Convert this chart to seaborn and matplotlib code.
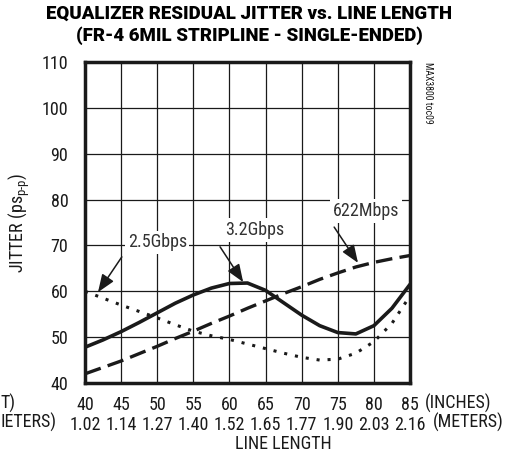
import matplotlib
matplotlib.use("Agg")
import matplotlib.pyplot as plt
from matplotlib import font_manager as fm
import seaborn as sns
import pandas as pd

# values
length_in = [40, 42.5, 45, 47.5, 50, 52.5, 55, 57.5, 60, 62.5, 65, 67.5, 70, 72.5, 75, 77.5, 80, 82.5, 85]
jitter_2g5 = [60, 58.5, 57, 55.6, 54.2, 52.7, 51.3, 50.3, 49.5, 48.5, 47.5, 46.5, 45.6, 45.0, 45.2, 46.5, 49, 53, 59]
jitter_3g2 = [47.8, 49.4, 51.2, 53.2, 55.3, 57.4, 59.2, 60.7, 61.7, 61.8, 60.2, 57.5, 54.8, 52.5, 51.0, 50.7, 52.5, 56.3, 61.5]
jitter_622 = [42, 43.4, 44.8, 46.4, 48, 49.7, 51.3, 53.0, 54.6, 56.3, 57.9, 59.5, 61, 62.6, 64, 65.3, 66.3, 67.1, 67.8]

x_ticks_in = [40, 45, 50, 55, 60, 65, 70, 75, 80, 85]
x_ticks_m = ["1.02", "1.14", "1.27", "1.40", "1.52", "1.65", "1.77", "1.90", "2.03", "2.16"]
y_ticks = [40, 50, 60, 70, 80, 90, 100, 110]

df = pd.DataFrame({"length": length_in, "2.5Gbps": jitter_2g5,
                   "3.2Gbps": jitter_3g2, "622Mbps": jitter_622})

installed = {f.name for f in fm.fontManager.ttflist}
narrow = [n for n in ["Roboto Condensed", "Archivo Narrow", "PT Sans Narrow", "Liberation Sans Narrow",
                      "Barlow Semi Condensed"] if n in installed] + ["DejaVu Sans"]
heavy = [n for n in ["Roboto", "Roboto Condensed", "Barlow Condensed"] if n in installed] + ["DejaVu Sans"]

sns.set_style("white")
plt.rcParams["font.family"] = [narrow[0], "DejaVu Sans"]
plt.rcParams["mathtext.fontset"] = "custom"
plt.rcParams["mathtext.rm"] = narrow[0]

fig = plt.figure(figsize=(5.12, 4.57), dpi=100)
ax = fig.add_axes([85 / 512, 1 - 383 / 457, 325 / 512, 321 / 457])

ink = "#1a1a1a"
fs = 13
sns.lineplot(data=df, x="length", y="2.5Gbps", ax=ax, color=ink, lw=2.2)
ax.lines[-1].set_dashes((1.0, 2.6))
sns.lineplot(data=df, x="length", y="3.2Gbps", ax=ax, color=ink, lw=2.6)
sns.lineplot(data=df, x="length", y="622Mbps", ax=ax, color=ink, lw=2.4)
ax.lines[-1].set_dashes((5, 2.2))

ax.set_xlim(40, 85)
ax.set_ylim(40, 110)
ax.set_xticks(x_ticks_in)
ax.set_xticklabels([f"{a}\n{b}" for a, b in zip(x_ticks_in, x_ticks_m)], linespacing=1.15)
ax.set_yticks(y_ticks)
ax.grid(True, color=ink, lw=0.9)
ax.tick_params(length=0, labelsize=fs, colors=ink)
ax.tick_params(axis="y", pad=12)
ax.tick_params(axis="x", pad=9)
for s in ax.spines.values():
    s.set_visible(True)
    s.set_color(ink)
    s.set_linewidth(2.5)
ax.set_xlabel("")
ax.set_ylabel(r"JITTER (ps$_{\text{p-p}}$)", fontsize=fs, color=ink, labelpad=7)

# labels with arrows
labels = [("2.5Gbps", (50.0, 70.7), (45.1, 67.5), (41.8, 59.8)),
          ("3.2Gbps", (63.5, 73.4), (58.7, 69.7), (61.9, 62.0)),
          ("622Mbps", (78.9, 77.5), (74.5, 74.0), (77.8, 66.2))]
for txt, pos, tail, head in labels:
    ax.text(pos[0], pos[1], txt, ha="center", va="center", fontsize=fs, color="#333333",
            bbox=dict(facecolor="white", edgecolor="none", pad=2))
    ax.annotate("", xy=head, xytext=tail,
                arrowprops=dict(arrowstyle="-|>,head_length=0.9,head_width=0.35",
                                color=ink, lw=1.1, mutation_scale=12,
                                shrinkA=0, shrinkB=0))

for y, line in [(14, "EQUALIZER RESIDUAL JITTER vs. LINE LENGTH"),
                (36, "(FR-4 6MIL STRIPLINE - SINGLE-ENDED)")]:
    fig.text(249 / 512, 1 - y / 457, line, ha="center", va="center", fontsize=13.4,
             fontweight="heavy", color="black", family=[heavy[0], "DejaVu Sans"])

fig.text(425 / 512, 1 - 403 / 457, "(INCHES)", ha="left", va="center", fontsize=fs, color=ink)
fig.text(433 / 512, 1 - 422 / 457, "(METERS)", ha="left", va="center", fontsize=fs, color=ink)
fig.text(0, 1 - 403 / 457, "T)", ha="left", va="center", fontsize=fs, color=ink)
fig.text(0, 1 - 422 / 457, "IETERS)", ha="left", va="center", fontsize=fs, color=ink)
fig.text(283 / 512, 1 - 444 / 457, "LINE LENGTH", ha="center", va="center", fontsize=fs, color=ink)
fig.text(428 / 512, 1 - 62 / 457, "MAX3800 toc09", ha="center", va="top",
         rotation=-90, fontsize=7, color=ink)

fig.savefig("out.png", dpi=100)
